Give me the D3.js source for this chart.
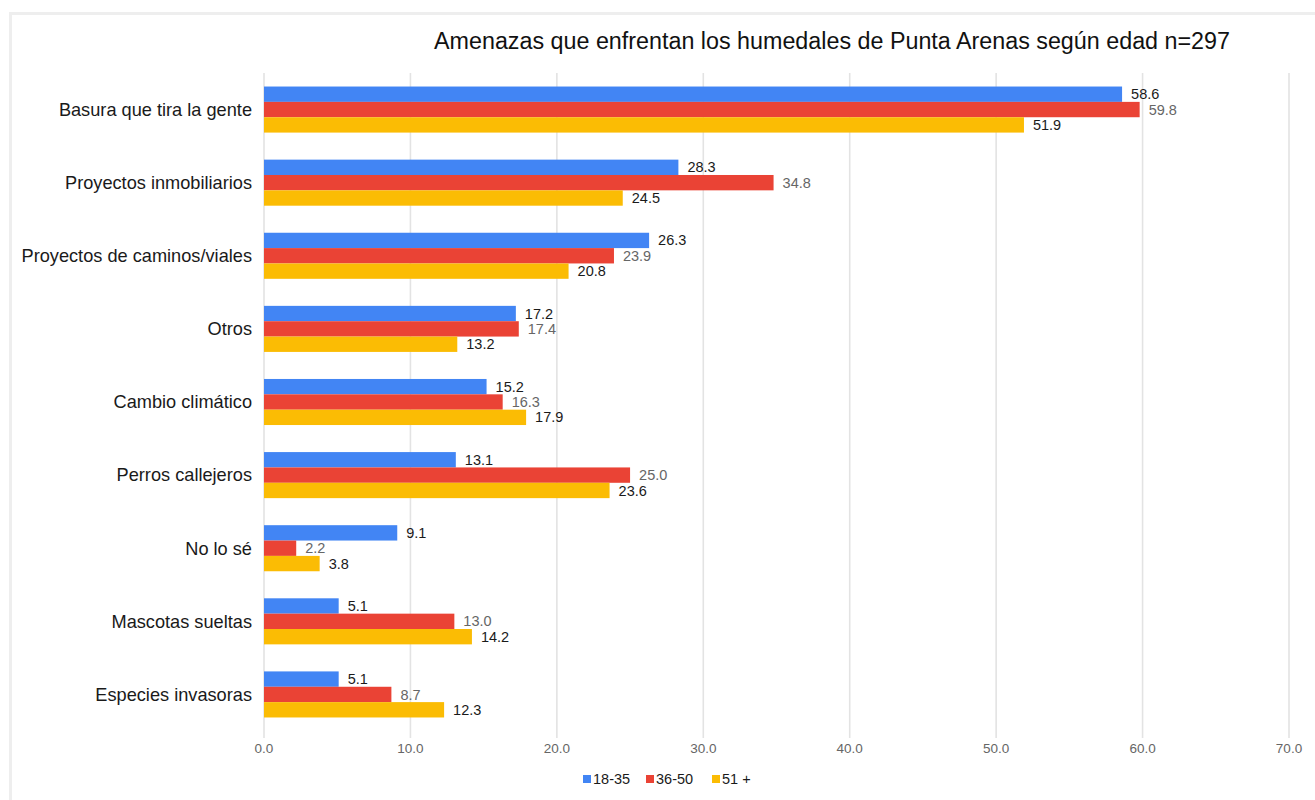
<!DOCTYPE html>
<html>
<head>
<meta charset="utf-8">
<script src="https://cdn.jsdelivr.net/npm/d3@7"></script>
<style>
  body { margin: 0; background: #fff; }
  svg { display: block; font-family: "Liberation Sans", Arial, sans-serif; }
</style>
</head>
<body>
<div id="chart"></div>
<script>
const categories = [
    'Basura que tira la gente',
    'Proyectos inmobiliarios',
    'Proyectos de caminos/viales',
    'Otros',
    'Cambio climático',
    'Perros callejeros',
    'No lo sé',
    'Mascotas sueltas',
    'Especies invasoras'
];
const seriesNames = ['18-35', '36-50', '51 +'];
const age18to35 = [58.6, 28.3, 26.3, 17.2, 15.2, 13.1, 9.1, 5.1, 5.1];
const age36to50 = [59.8, 34.8, 23.9, 17.4, 16.3, 25.0, 2.2, 13.0, 8.7];
const age51plus = [51.9, 24.5, 20.8, 13.2, 17.9, 23.6, 3.8, 14.2, 12.3];
const xTicks = [0, 10, 20, 30, 40, 50, 60, 70];

const colors = ['#4285F4', '#EA4335', '#FBBC04'];
const labelColors = ['#1a1a1a', '#666', '#1a1a1a'];

const width = 1315, height = 800;
const margins = { top: 73, left: 264, right: 26, bottom: 69 };

const svg = d3.select('#chart').append('svg')
    .attr('width', width)
    .attr('height', height);

// frame of the screenshot
svg.append('path')
    .attr('d', `M10.5,${height} L10.5,13.5 L${width},13.5`)
    .attr('fill', 'none')
    .attr('stroke', '#eeeeee')
    .attr('stroke-width', 3);

svg.append('text')
    .attr('x', 832)
    .attr('y', 49)
    .attr('text-anchor', 'middle')
    .attr('font-size', 23.3)
    .attr('fill', '#111')
    .text('Amenazas que enfrentan los humedales de Punta Arenas según edad n=297');

const x = d3.scaleLinear()
    .domain([0, 70])
    .range([margins.left, width - margins.right]);

const y = d3.scaleBand()
    .domain(categories)
    .range([margins.top, height - margins.bottom])
    .paddingInner(0.37)
    .paddingOuter(0.185);

const ySub = d3.scaleBand()
    .domain(seriesNames)
    .range([0, y.bandwidth()]);

// gridlines
svg.append('g')
    .selectAll('line')
    .data(xTicks)
    .join('line')
    .attr('x1', d => x(d))
    .attr('x2', d => x(d))
    .attr('y1', margins.top)
    .attr('y2', height - margins.bottom + 7)
    .attr('stroke', '#e3e3e3')
    .attr('stroke-width', 1.6);

// x axis labels
svg.append('g')
    .selectAll('text')
    .data(xTicks)
    .join('text')
    .attr('x', d => x(d))
    .attr('y', 753)
    .attr('text-anchor', 'middle')
    .attr('font-size', 13.5)
    .attr('fill', '#666')
    .text(d => d3.format('.1f')(d));

// category labels
svg.append('g')
    .selectAll('text')
    .data(categories)
    .join('text')
    .attr('x', 252)
    .attr('y', d => y(d) + y.bandwidth() / 2)
    .attr('dy', '0.35em')
    .attr('text-anchor', 'end')
    .attr('font-size', 18.2)
    .attr('fill', '#1a1a1a')
    .text(d => d);

const seriesData = [age18to35, age36to50, age51plus];

seriesData.forEach((values, i) => {
    const g = svg.append('g').attr('class', `series _${i}`);
    g.selectAll('rect')
        .data(values)
        .join('rect')
        .attr('x', x(0))
        .attr('y', (d, j) => y(categories[j]) + ySub(seriesNames[i]))
        .attr('width', d => x(d) - x(0))
        .attr('height', ySub.bandwidth())
        .attr('fill', colors[i]);
    g.selectAll('text')
        .data(values)
        .join('text')
        .attr('x', d => x(d) + 9)
        .attr('y', (d, j) => y(categories[j]) + ySub(seriesNames[i]) + ySub.bandwidth() / 2)
        .attr('dy', '0.35em')
        .attr('font-size', 14.5)
        .attr('fill', labelColors[i])
        .text(d => d3.format('.1f')(d));
});

// legend
const legendX = [583, 646, 712];
const legend = svg.append('g')
    .selectAll('g')
    .data(seriesNames)
    .join('g')
    .attr('transform', (d, i) => `translate(${legendX[i]}, 779)`);
legend.append('rect')
    .attr('x', 0)
    .attr('y', -4)
    .attr('width', 8)
    .attr('height', 8)
    .attr('fill', (d, i) => colors[i]);
legend.append('text')
    .attr('x', 10)
    .attr('dy', '0.35em')
    .attr('font-size', 14.5)
    .attr('fill', '#1a1a1a')
    .text(d => d);
</script>
</body>
</html>
